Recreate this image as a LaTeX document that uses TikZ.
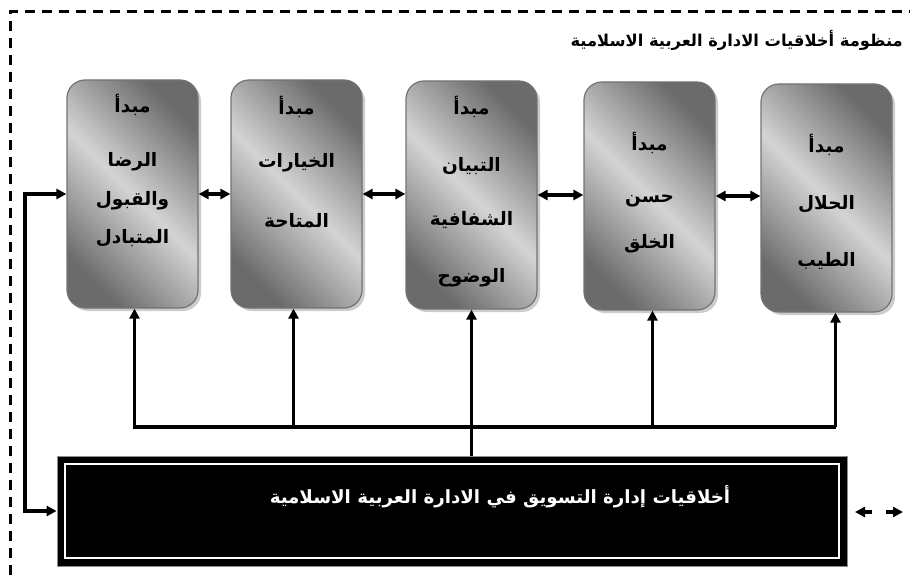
\documentclass[tikz,border=0pt]{standalone}
\usepackage{fontspec}
\TeXXeTstate=1
\newfontfamily\arabicfont[Script=Arabic]{DejaVu Sans}
\usetikzlibrary{arrows.meta,shadows,calc}
\newcommand{\arl}[1]{\beginR #1\endR}
\begin{document}
\begin{tikzpicture}[x=1pt,y=-1pt,
  every node/.style={inner sep=0pt},
  >={Triangle[length=10pt,width=10pt]},
  pbox/.style={rounded corners=18pt, draw=black!55, line width=1.2pt,
    minimum width=131pt, minimum height=228pt,
    top color=black!58, bottom color=black!58, middle color=black!17, shading angle=-45,
    drop shadow={shadow xshift=3pt, shadow yshift=-3pt, fill=black!20, opacity=1}},
  lbl/.style={font=\arabicfont\bfseries\fontsize{18.5}{22}\selectfont},
  conn/.style={line width=3.3pt},
  frame/.style={line width=3pt, dash pattern=on 10pt off 7pt},
]
\useasboundingbox (0,0) rectangle (910,575);
% dashed frame
\coordinate (fa) at (10,575);
\coordinate (fb) at (10,12);
\coordinate (fc) at (910,12);
\draw[frame] (fa) -- (fb) -- (fc);
% title
\node[lbl, font=\arabicfont\bfseries\fontsize{16.3}{19}\selectfont, anchor=east] (title) at (903,40) {\arl{منظومة أخلاقيات الادارة العربية الاسلامية}};
% boxes
\node[pbox] (b1) at (132.5,194) {};
\node[pbox] (b2) at (296.5,194) {};
\node[pbox] (b3) at (471.5,195) {};
\node[pbox] (b4) at (649.5,196) {};
\node[pbox] (b5) at (826.5,198) {};
% labels b1
\node[lbl] (t11) at (132.5,105) {\arl{مبدأ}};
\node[lbl] (t12) at (132.5,162) {\arl{الرضا}};
\node[lbl] (t13) at (132.5,201) {\arl{والقبول}};
\node[lbl] (t14) at (132.5,238) {\arl{المتبادل}};
% b2
\node[lbl] (t21) at (296.5,107) {\arl{مبدأ}};
\node[lbl] (t22) at (296.5,163) {\arl{الخيارات}};
\node[lbl] (t23) at (296.5,221) {\arl{المتاحة}};
% b3
\node[lbl] (t31) at (471.5,107) {\arl{مبدأ}};
\node[lbl] (t32) at (471.5,166) {\arl{التبيان}};
\node[lbl] (t33) at (471.5,220) {\arl{الشفافية}};
\node[lbl] (t34) at (471.5,278) {\arl{الوضوح}};
% b4
\node[lbl] (t41) at (649.5,143) {\arl{مبدأ}};
\node[lbl] (t42) at (649.5,201) {\arl{حسن}};
\node[lbl] (t43) at (649.5,244) {\arl{الخلق}};
% b5
\node[lbl] (t51) at (826.5,145) {\arl{مبدأ}};
\node[lbl] (t52) at (826.5,204) {\arl{الحلال}};
\node[lbl] (t53) at (826.5,261) {\arl{الطيب}};
% big box
\node[fill=black, draw=black!45, line width=0.8pt, minimum width=790pt, minimum height=110pt] (big) at (452,511) {};
\draw[white, line width=1.6pt] ($(big.north west)+(8.5,8.5)$) rectangle ($(big.south east)+(-8.5,-8.5)$);
\node[lbl, text=white, font=\arabicfont\bfseries\fontsize{18.2}{22}\selectfont] (bigt) at (500,497) {\arl{أخلاقيات إدارة التسويق في الادارة العربية الاسلامية}};
% horizontal connectors between boxes
\draw[conn,<->] (b1.east) -- (b1.east -| b2.west);
\draw[conn,<->] (b2.east) -- (b2.east -| b3.west);
\draw[conn,<->] (b3.east) -- (b3.east -| b4.west);
\draw[conn,<->] (b4.east) -- (b4.east -| b5.west);
% left connector
\coordinate (lft) at (25,511);
\draw[conn,<->] (b1.west) -| (lft) |- (big.west);
% bus
\coordinate (bus) at (0,427);
\draw[conn,->] ([xshift=9pt]b5.south |- bus) -| ([xshift=2pt]b1.south);
\draw[conn,->] ([xshift=9pt]b5.south |- bus) -- ([xshift=9pt]b5.south);
\draw[conn,->] ([xshift=-3pt]b2.south |- bus) -- ([xshift=-3pt]b2.south);
\draw[conn,->] ([xshift=3pt]b4.south |- bus) -- ([xshift=3pt]b4.south);
\draw[conn,->] (b3.south |- big.north) -- (b3.south);
% right small arrows
\coordinate (ra1) at (855,512);
\coordinate (ra2) at (872,512);
\coordinate (rb1) at (886,512);
\coordinate (rb2) at (903,512);
\draw[conn,->] (ra2) -- (ra1);
\draw[conn,->] (rb1) -- (rb2);
\end{tikzpicture}
\end{document}
